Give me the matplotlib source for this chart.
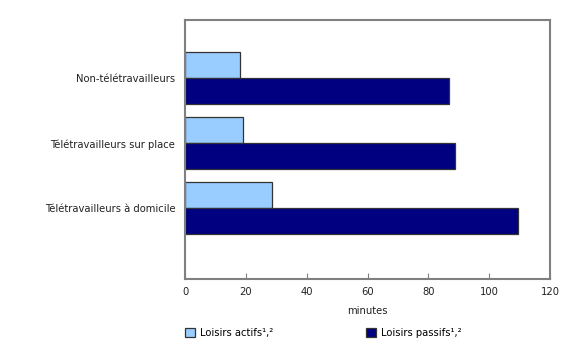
import matplotlib
matplotlib.use("Agg")
import matplotlib.pyplot as plt
import numpy as np

categories = ["Non-télétravailleurs", "Télétravailleurs sur place", "Télétravailleurs à domicile"]
actifs = [18.1, 19.2, 28.7]
passifs = [86.8, 88.7, 109.5]
series_labels = ["Loisirs actifs\u00b9,\u00b2", "Loisirs passifs\u00b9,\u00b2"]
xticks = [0, 20, 40, 60, 80, 100, 120]

plt.rcParams['font.family'] = ['DejaVu Sans']
plt.rcParams['font.size'] = 7.2

fig = plt.figure(figsize=(5.8, 3.45), dpi=100)
ax = fig.add_axes([185 / 580, 1 - 279 / 345, 365 / 580, 259 / 345])

y = np.arange(len(categories))
h = 0.4
edge = '#333333'
ax.barh(y - h / 2, actifs, height=h, color='#99ccff', edgecolor=edge, linewidth=0.9, label=series_labels[0])
ax.barh(y + h / 2, passifs, height=h, color='#000080', edgecolor=edge, linewidth=0.9, label=series_labels[1])

ax.set_ylim(3.088, -0.897)
ax.set_xlim(0, 120)
ax.set_yticks(y)
ax.set_yticklabels(categories, color='#222222')
ax.set_xticks(xticks)
ax.tick_params(axis='y', length=0, pad=7)
ax.tick_params(axis='x', direction='in', length=4, color='#808080', pad=6, colors='#222222')
for s in ax.spines.values():
    s.set_color('#808080')
    s.set_linewidth(1.5)
ax.set_xlabel('minutes', labelpad=6, color='#222222')

handles, labels = ax.get_legend_handles_labels()
fig.legend(handles, labels, loc='upper left', bbox_to_anchor=(176 / 580, 1 - 319 / 345), ncol=2,
           frameon=False, handlelength=1.0, handleheight=1.0, columnspacing=9.3, handletextpad=0.5)

fig.savefig('out.png', dpi=100)
